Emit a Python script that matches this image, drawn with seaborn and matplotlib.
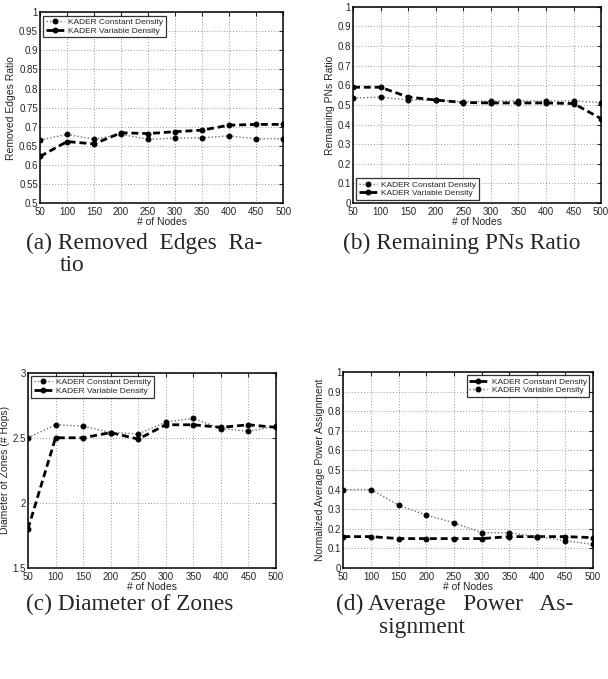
import numpy as np
import pandas as pd
import matplotlib
matplotlib.use("Agg")
import matplotlib.pyplot as plt
import seaborn as sns

# ── Data ──────────────────────────────────────────────────────────────────────
nodes = [50, 100, 150, 200, 250, 300, 350, 400, 450, 500]

edges_const = [0.665, 0.680, 0.667, 0.680, 0.667, 0.670, 0.671, 0.676, 0.668, 0.669]
edges_var = [0.622, 0.661, 0.655, 0.684, 0.682, 0.687, 0.691, 0.704, 0.706, 0.706]

pns_const = [0.535, 0.540, 0.525, 0.525, 0.515, 0.520, 0.520, 0.520, 0.520, 0.512]
pns_var = [0.590, 0.590, 0.540, 0.525, 0.512, 0.510, 0.510, 0.510, 0.507, 0.430]

diam_const = [2.50, 2.60, 2.59, 2.54, 2.53, 2.62, 2.65, 2.57, 2.55, 2.59]
diam_var = [1.80, 2.50, 2.50, 2.54, 2.49, 2.60, 2.60, 2.58, 2.60, 2.58]

power_const = [0.160, 0.160, 0.150, 0.150, 0.150, 0.150, 0.160, 0.160, 0.160, 0.155]
power_var = [0.40, 0.40, 0.32, 0.27, 0.23, 0.18, 0.18, 0.16, 0.14, 0.12]

LBL_CONST = "KADER Constant Density"
LBL_VAR = "KADER Variable Density"

# ── Style ─────────────────────────────────────────────────────────────────────
sns.set_style("white")
plt.rcParams.update({
    "font.family": ["Liberation Sans", "DejaVu Sans"],
    "xtick.direction": "in",
    "ytick.direction": "in",
    "xtick.top": True,
    "ytick.right": True,
    "xtick.major.size": 3,
    "ytick.major.size": 3,
    "xtick.labelsize": 7,
    "ytick.labelsize": 7,
    "axes.linewidth": 1.1,
    "axes.edgecolor": "black",
})


def draw_panel(ax, ys, labels, styles, ylim, yticks, ylabel, legend_loc):
    """Draw one MATLAB-looking panel with two series."""
    for y, lab, sty in zip(ys, labels, styles):
        df = pd.DataFrame({"n": nodes, "v": y})
        if sty == "dot":
            sns.lineplot(data=df, x="n", y="v", ax=ax, label=lab, color="#707070",
                         linestyle=(0, (1, 1.5)), linewidth=1.0, marker="o",
                         markersize=3.5, markerfacecolor="black",
                         markeredgecolor="black")
        else:
            sns.lineplot(data=df, x="n", y="v", ax=ax, label=lab, color="black",
                         linestyle=(0, (2.5, 1.4)), linewidth=2.0, marker="o",
                         markersize=3.5, markerfacecolor="black",
                         markeredgecolor="black")
    ax.set_xlim(50, 500)
    ax.set_ylim(*ylim)
    ax.set_xticks(nodes)
    ax.set_yticks(yticks)
    ax.set_yticklabels([f"{t:g}" for t in yticks])
    ax.grid(True, color="#999999", linestyle=(0, (1, 2)), linewidth=0.7)
    ax.set_xlabel("# of Nodes", fontsize=7.5, labelpad=0)
    ax.set_ylabel(ylabel, fontsize=7.5, labelpad=2)
    ax.tick_params(axis="x", pad=3.2)
    ax.tick_params(axis="y", pad=1.5)
    leg = ax.legend(loc=legend_loc, fontsize=6, frameon=True, fancybox=False,
                    borderpad=0.3, labelspacing=0.1, handlelength=2.2,
                    handletextpad=0.5, borderaxespad=0.4)
    leg.get_frame().set_edgecolor("black")
    leg.get_frame().set_linewidth(0.9)
    for s in ax.spines.values():
        s.set_visible(True)


fig = plt.figure(figsize=(6.08, 6.79), dpi=100)

ax_a = fig.add_axes([0.0658, 0.701, 0.400, 0.281])
ax_b = fig.add_axes([0.5806, 0.701, 0.408, 0.289])
ax_c = fig.add_axes([0.046, 0.1635, 0.408, 0.2876])
ax_d = fig.add_axes([0.5646, 0.1635, 0.410, 0.2887])

draw_panel(ax_a, [edges_const, edges_var], [LBL_CONST, LBL_VAR], ["dot", "dash"],
           (0.5, 1.0), np.round(np.arange(0.5, 1.001, 0.05), 2),
           "Removed Edges Ratio", "upper left")
draw_panel(ax_b, [pns_const, pns_var], [LBL_CONST, LBL_VAR], ["dot", "dash"],
           (0, 1), np.round(np.arange(0, 1.001, 0.1), 1),
           "Remaining PNs Ratio", "lower left")
draw_panel(ax_c, [diam_const, diam_var], [LBL_CONST, LBL_VAR], ["dot", "dash"],
           (1.5, 3.0), [1.5, 2, 2.5, 3],
           "Diameter of Zones (# Hops)", "upper left")
draw_panel(ax_d, [power_const, power_var], [LBL_CONST, LBL_VAR], ["dash", "dot"],
           (0, 1), np.round(np.arange(0, 1.001, 0.1), 1),
           "Normalized Average Power Assignment", "upper right")

# ── Captions (serif, like the paper) ──────────────────────────────────────────
cap = dict(fontsize=16.8, family=["Liberation Serif", "DejaVu Serif"],
           va="center", ha="left")
W, H = 608, 679
fig.text(26 / W, 1 - 243 / H, "(a) Removed  Edges  Ra-", **cap)
fig.text(60 / W, 1 - 266 / H, "tio", **cap)
fig.text(343 / W, 1 - 243 / H, "(b) Remaining PNs Ratio", **cap)
fig.text(26 / W, 1 - 604 / H, "(c) Diameter of Zones", **cap)
fig.text(336 / W, 1 - 604 / H, "(d) Average   Power   As-", **cap)
fig.text(379 / W, 1 - 628 / H, "signment", **cap)

fig.savefig("out.png", dpi=100)
